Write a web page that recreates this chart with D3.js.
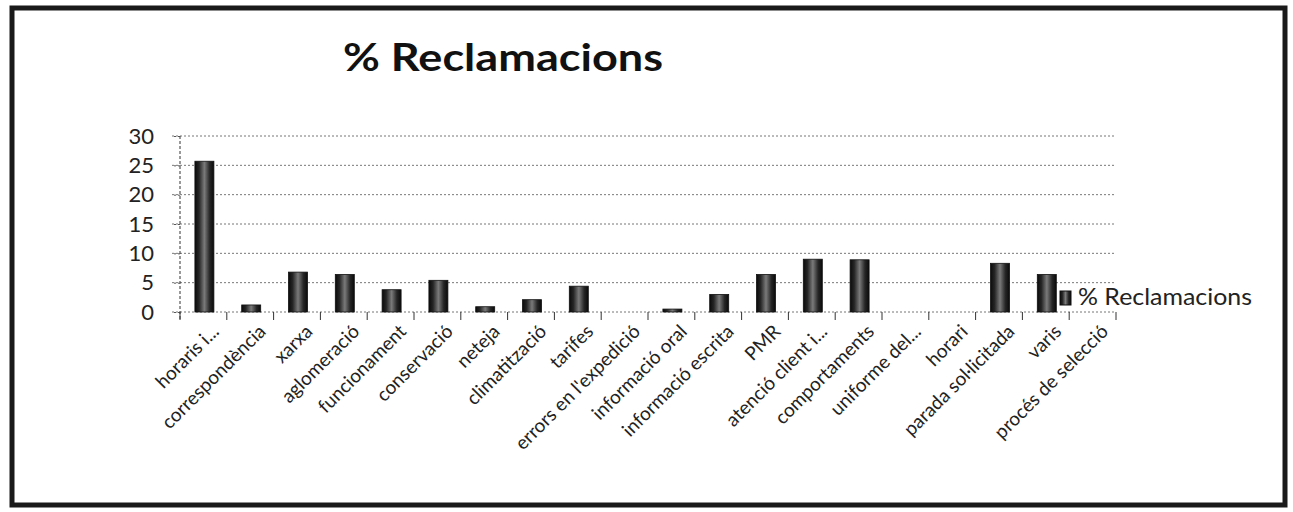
<!DOCTYPE html>
<html><head><meta charset="utf-8">
<script src="https://cdn.jsdelivr.net/npm/d3@7"></script>
<style>
html,body{margin:0;padding:0;background:#fff;}
svg{display:block;}
</style></head>
<body>
<svg id="chart" width="1293" height="512"></svg>
<script>
const categories = ["horaris i...", "correspondència", "xarxa", "aglomeració", "funcionament", "conservació", "neteja", "climatització", "tarifes", "errors en l'expedició", "informació oral", "informació escrita", "PMR", "atenció client i...", "comportaments", "uniforme del...", "horari", "parada sol·licitada", "varis", "procés de selecció"];
const values = [25.7, 1.2, 6.8, 6.4, 3.8, 5.4, 0.9, 2.1, 4.4, 0, 0.5, 3.0, 6.4, 9.0, 8.9, 0, 0, 8.3, 6.4, 0];
const yTicks = [0, 5, 10, 15, 20, 25, 30];
const title = "% Reclamacions";
const seriesName = "% Reclamacions";

const svg = d3.select("#chart");
const font = "Lato, 'Open Sans', sans-serif";

const defs = svg.append("defs");
const grad = defs.append("linearGradient").attr("id", "barGrad").attr("x1", "0").attr("x2", "1").attr("y1", "0").attr("y2", "0");
grad.append("stop").attr("offset", "0%").attr("stop-color", "#0a0a0a");
grad.append("stop").attr("offset", "22%").attr("stop-color", "#262626");
grad.append("stop").attr("offset", "50%").attr("stop-color", "#7a7a7a");
grad.append("stop").attr("offset", "78%").attr("stop-color", "#262626");
grad.append("stop").attr("offset", "100%").attr("stop-color", "#0a0a0a");

// border
svg.append("rect").attr("x", 12).attr("y", 8).attr("width", 1273).attr("height", 497)
  .attr("fill", "none").attr("stroke", "#1a1a1a").attr("stroke-width", 5);

// title
svg.append("text").attr("x", 503).attr("y", 71).attr("text-anchor", "middle")
  .attr("font-family", font).attr("font-weight", "bold").attr("font-size", 38)
  .attr("fill", "#111").attr("textLength", 320).attr("lengthAdjust", "spacingAndGlyphs")
  .text(title);

const x = d3.scaleBand().domain(categories).range([180, 1116]).paddingInner(0).paddingOuter(0);
const y = d3.scaleLinear().domain([0, 30]).range([312, 136]);

const g = svg.append("g");

// gridlines
g.selectAll("line.grid").data(yTicks).join("line").attr("class", "grid")
  .attr("x1", 172).attr("x2", 1116).attr("y1", d => y(d)).attr("y2", d => y(d))
  .attr("stroke", "#777").attr("stroke-width", 1).attr("stroke-dasharray", "2,2");

// y axis
const yAxis = d3.axisLeft(y).tickValues(yTicks).tickSize(8).tickPadding(18);
const ya = g.append("g").attr("transform", "translate(180,0)").call(yAxis);
ya.select(".domain").attr("stroke", "#333").attr("stroke-dasharray", "3,2").attr("d", `M0,${y(30)}V${y(0)+9}`);
ya.selectAll(".tick line").attr("stroke", "#555").attr("stroke-dasharray", "2,2");
ya.selectAll(".tick text").attr("font-family", font).attr("font-size", 22).attr("fill", "#222");

// x axis ticks (band boundaries)
const bounds = categories.map(c => x(c)).concat([x.range()[1]]);
g.selectAll("line.xt").data(bounds).join("line").attr("class", "xt")
  .attr("x1", d => d).attr("x2", d => d).attr("y1", y(0)).attr("y2", y(0) + 8)
  .attr("stroke", "#333").attr("stroke-width", 1);

// bars
const bw = 19;
g.selectAll("rect.bar").data(values).join("rect").attr("class", "bar")
  .attr("x", (d, i) => x(categories[i]) + x.bandwidth() / 2 - bw / 2 + 1)
  .attr("y", d => y(d)).attr("width", bw).attr("height", d => y(0) - y(d))
  .attr("fill", "url(#barGrad)").attr("stroke", "#111").attr("stroke-width", 0.8);

// x labels
g.selectAll("text.xl").data(categories).join("text").attr("class", "xl")
  .attr("transform", d => `translate(${x(d) + x.bandwidth() / 2 + 12},${y(0) + 16}) rotate(-45)`)
  .attr("text-anchor", "end").attr("dy", "0.35em")
  .attr("font-family", font).attr("font-size", 19).attr("fill", "#222")
  .text(d => d);

// legend
const lg = svg.append("g");
lg.append("rect").attr("x", 1060).attr("y", 291).attr("width", 11).attr("height", 14)
  .attr("fill", "url(#barGrad)").attr("stroke", "#111");
lg.append("text").attr("x", 1078).attr("y", 305).attr("font-family", font).attr("font-size", 24)
  .attr("fill", "#222").attr("textLength", 174).attr("lengthAdjust", "spacingAndGlyphs")
  .text(seriesName);
</script>
</body></html>
